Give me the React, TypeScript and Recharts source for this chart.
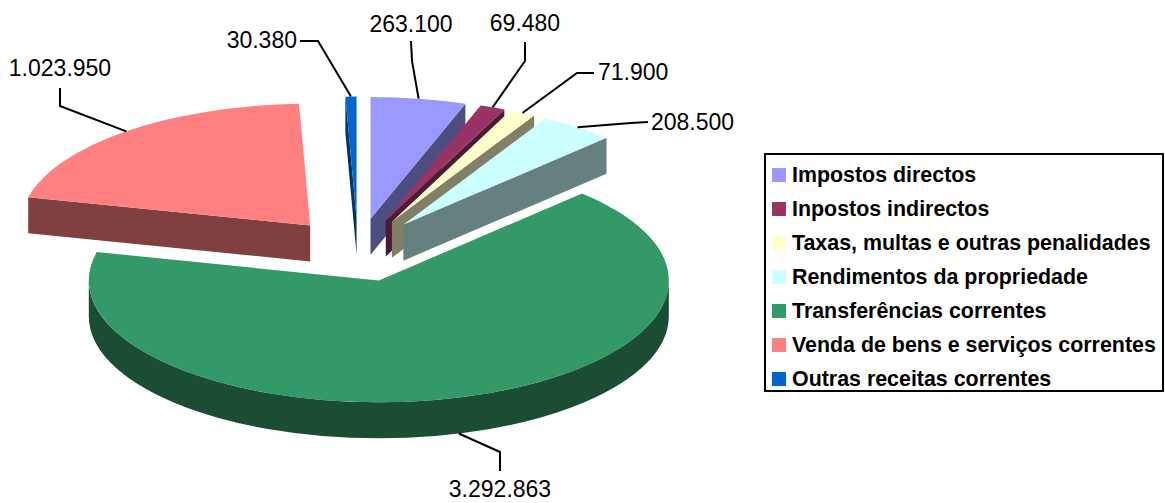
import { PieChart, Pie, Legend } from "recharts";

const CATEGORIES = [
  "Impostos directos",
  "Inpostos indirectos",
  "Taxas, multas e outras penalidades",
  "Rendimentos da propriedade",
  "Transferências correntes",
  "Venda de bens e serviços correntes",
  "Outras receitas correntes",
];
const VALUES = [263100, 69480, 71900, 208500, 3292863, 1023950, 30380];
const COLORS = ["#9999FF", "#993366", "#FFFFCC", "#CCFFFF", "#339966", "#FF8080", "#0066CC"];

// hand-placed data labels (leader line elbow, line end, text anchor)
const LABEL_LAYOUT = [
  { elbow: [412, 61], end: [411, 41], text: [411, 32], anchor: "middle" },
  { elbow: [525, 61], end: [525, 42], text: [525, 31], anchor: "middle" },
  { elbow: [577, 73], end: [594, 73], text: [598, 80], anchor: "start" },
  { elbow: [631, 123], end: [648, 122], text: [651, 130], anchor: "start" },
  { elbow: [500, 452], end: [500, 471], text: [500, 497], anchor: "middle" },
  { elbow: [60, 106], end: [60, 88], text: [60, 76], anchor: "middle" },
  { elbow: [318, 41], end: [300, 41], text: [297, 48], anchor: "end" },
];

const data = CATEGORIES.map((name, i) => ({ name, value: VALUES[i] }));

const TILT = 0.42;
const DEPTH = 36;
const EXPLODE = 0.26;
const FONT = "'Liberation Sans', Arial, sans-serif";

const fmt = (v: number) => String(v).replace(/\B(?=(\d{3})+(?!\d))/g, ".");

function darken(hex: string) {
  const n = parseInt(hex.slice(1), 16);
  const r = Math.round(((n >> 16) & 255) / 2);
  const g = Math.round(((n >> 8) & 255) / 2);
  const b = Math.round((n & 255) / 2);
  return `rgb(${r},${g},${b})`;
}

function Slice3D(props: any) {
  const { cx, cy, outerRadius, startAngle, endAngle, index } = props;
  const rx = outerRadius;
  const ry = rx * TILT;
  const rad = Math.PI / 180;
  const mid = (startAngle + endAngle) / 2;
  const ox = cx + rx * EXPLODE * Math.cos(mid * rad);
  const oy = cy - ry * EXPLODE * Math.sin(mid * rad);
  const P = (a: number, d = 0) => [ox + rx * Math.cos(a * rad), oy - ry * Math.sin(a * rad) + d];
  const color = COLORS[index];
  const dark = darken(color);

  const [sx, sy] = P(startAngle);
  const [ex, ey] = P(endAngle);
  const large = startAngle - endAngle > 180 ? 1 : 0;
  const top = `M${ox},${oy} L${sx},${sy} A${rx},${ry} 0 ${large} 1 ${ex},${ey} Z`;

  const walls: string[] = [];
  if (Math.cos(startAngle * rad) < 0)
    walls.push(`M${ox},${oy} L${sx},${sy} L${sx},${sy + DEPTH} L${ox},${oy + DEPTH} Z`);
  if (Math.cos(endAngle * rad) > 0)
    walls.push(`M${ox},${oy} L${ex},${ey} L${ex},${ey + DEPTH} L${ox},${oy + DEPTH} Z`);

  let side = "";
  const hi = Math.min(startAngle, 0);
  const lo = Math.max(endAngle, -180);
  if (hi > lo) {
    const [hx, hy] = P(hi);
    const [lx, ly] = P(lo);
    const lg = hi - lo > 180 ? 1 : 0;
    side = `M${hx},${hy} A${rx},${ry} 0 ${lg} 1 ${lx},${ly} L${lx},${ly + DEPTH} A${rx},${ry} 0 ${lg} 0 ${hx},${hy + DEPTH} Z`;
  }

  const front = Math.sin(mid * rad) < 0;
  const [ax, ay] = P(mid, front ? DEPTH : 0);
  const lay = LABEL_LAYOUT[index];

  return (
    <g>
      {walls.map((d, i) => (
        <path key={i} d={d} fill={dark} />
      ))}
      {side && <path d={side} fill={dark} />}
      <path d={top} fill={color} />
      <polyline
        points={`${ax},${ay} ${lay.elbow[0]},${lay.elbow[1]} ${lay.end[0]},${lay.end[1]}`}
        fill="none"
        stroke="#000"
        strokeWidth={2}
      />
      <text
        x={lay.text[0]}
        y={lay.text[1]}
        textAnchor={lay.anchor}
        fontFamily={FONT}
        fontSize={23}
        fill="#000"
      >
        {fmt(VALUES[index])}
      </text>
    </g>
  );
}

// legend keeps the data order (recharts sorts its payload by name)
function LegendBox() {
  return (
    <div
      style={{
        boxSizing: "border-box",
        width: 400,
        height: 239,
        border: "2px solid #000",
        background: "#fff",
        paddingTop: 3,
        fontFamily: FONT,
      }}
    >
      {CATEGORIES.map((name, i) => (
        <div key={name} style={{ height: 34, display: "flex", alignItems: "center" }}>
          <span
            style={{
              display: "inline-block",
              width: 14,
              height: 14,
              marginLeft: 6,
              marginRight: 6,
              background: COLORS[i],
            }}
          />
          <span style={{ fontSize: 21.4, fontWeight: "bold", color: "#000", whiteSpace: "nowrap" }}>
            {name}
          </span>
        </div>
      ))}
    </div>
  );
}

export default function App() {
  return (
    <div style={{ position: "absolute", left: 0, top: 0, width: 1165, height: 503, background: "#fff" }}>
      <PieChart width={1165} height={503} margin={{ top: 0, right: 0, bottom: 0, left: 0 }}>
        <Pie
          data={data}
          dataKey="value"
          nameKey="name"
          cx={358}
          cy={250}
          outerRadius={290}
          startAngle={90}
          endAngle={-270}
          fill="none"
          stroke="none"
          label={Slice3D}
          labelLine={false}
          isAnimationActive={false}
        />
        <Legend
          layout="vertical"
          verticalAlign="top"
          align="right"
          content={LegendBox}
          wrapperStyle={{ left: 764, top: 153, width: 400, right: "auto", bottom: "auto" }}
        />
      </PieChart>
    </div>
  );
}
